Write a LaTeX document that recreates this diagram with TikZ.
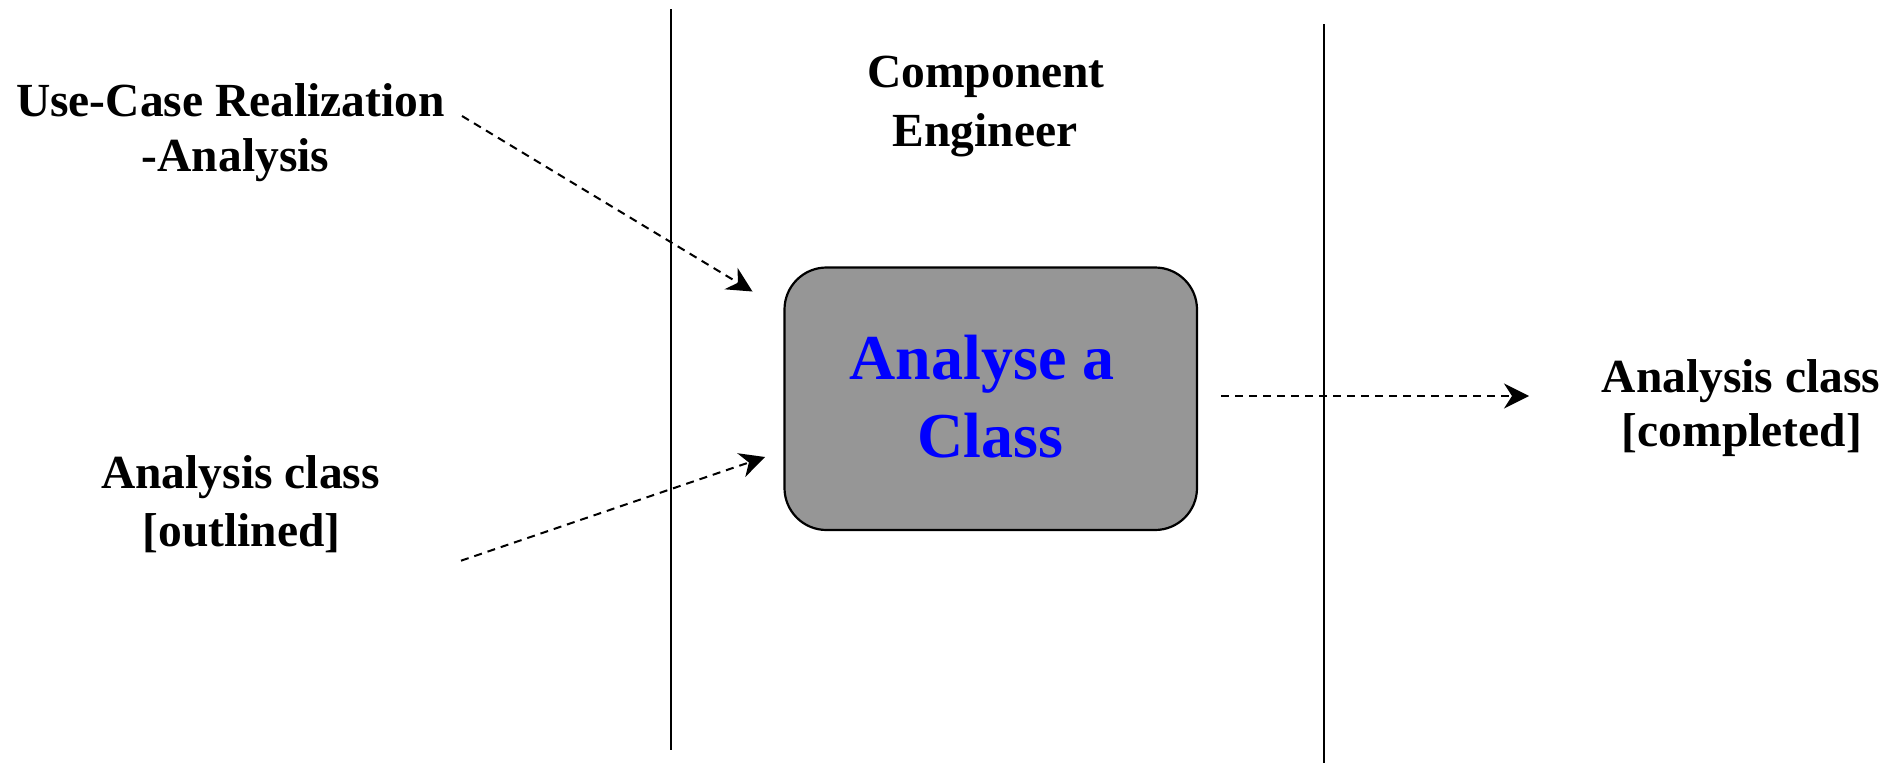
\documentclass[tikz,border=0pt]{standalone}
\usepackage{fontspec}
\setmainfont{Liberation Serif}
\usetikzlibrary{arrows.meta}
\definecolor{boxgray}{RGB}{150,150,150}
\definecolor{boxblue}{RGB}{0,0,255}
\tikzset{
  lbl/.style={anchor=base, inner sep=0pt, font=\fontsize{47.5}{57}\selectfont\bfseries},
  boxtxt/.style={anchor=base, inner sep=0pt, text=boxblue, font=\fontsize{64}{78}\selectfont\bfseries},
  lane/.style={line width=2pt, black},
  actbox/.style={draw=black, line width=2.2pt, fill=boxgray, rounded corners=42pt,
    minimum width=412.5pt, minimum height=262.5pt, inner sep=0pt},
  flow/.style={line width=2pt, dash pattern=on 8pt off 6pt,
    -{Stealth[length=25pt, width=25pt, inset=8pt]}}
}
\begin{document}
\begin{tikzpicture}[x=1pt, y=-1pt]
\useasboundingbox (0,0) rectangle (1896,763);
% swimlane separators
\coordinate (l1t) at (671,9);
\coordinate (l1b) at (671,750);
\coordinate (l2t) at (1324,24);
\coordinate (l2b) at (1324,763);
\draw[lane] (l1t) -- (l1b);
\draw[lane] (l2t) -- (l2b);
% lane title
\node[lbl] (ce1) at (986,87) {Component};
\node[lbl] (ce2) at (985,146) {Engineer};
% activity
\node[actbox] (box) at (990.75,398.75) {};
\node[boxtxt] (bt1) at (982,379.5) {Analyse a};
\node[boxtxt] (bt2) at (990.5,457) {Class};
% input artifacts
\node[lbl] (uc1) at (230.5,116.7) {Use-Case Realization};
\node[lbl] (uc2) at (235.5,171.7) {-Analysis};
\node[lbl] (ac1) at (240.5,488) {Analysis class};
\node[lbl] (ac2) at (241.5,546.7) {[outlined]};
% output artifact
\node[lbl] (oc1) at (1741,392.6) {Analysis class};
\node[lbl] (oc2) at (1742,446) {[completed]};
% connector ends
\coordinate (a1s) at (462,116);
\coordinate (a1e) at (752.5,291.5);
\coordinate (a2s) at (461,560.7);
\coordinate (a2e) at (765,457);
\coordinate (a3s) at (1221,396);
\coordinate (a3e) at (1529,396);
\draw[flow] (a1s) -- (a1e);
\draw[flow] (a2s) -- (a2e);
\draw[flow] (a3s) -- (a3e);
\end{tikzpicture}
\end{document}
